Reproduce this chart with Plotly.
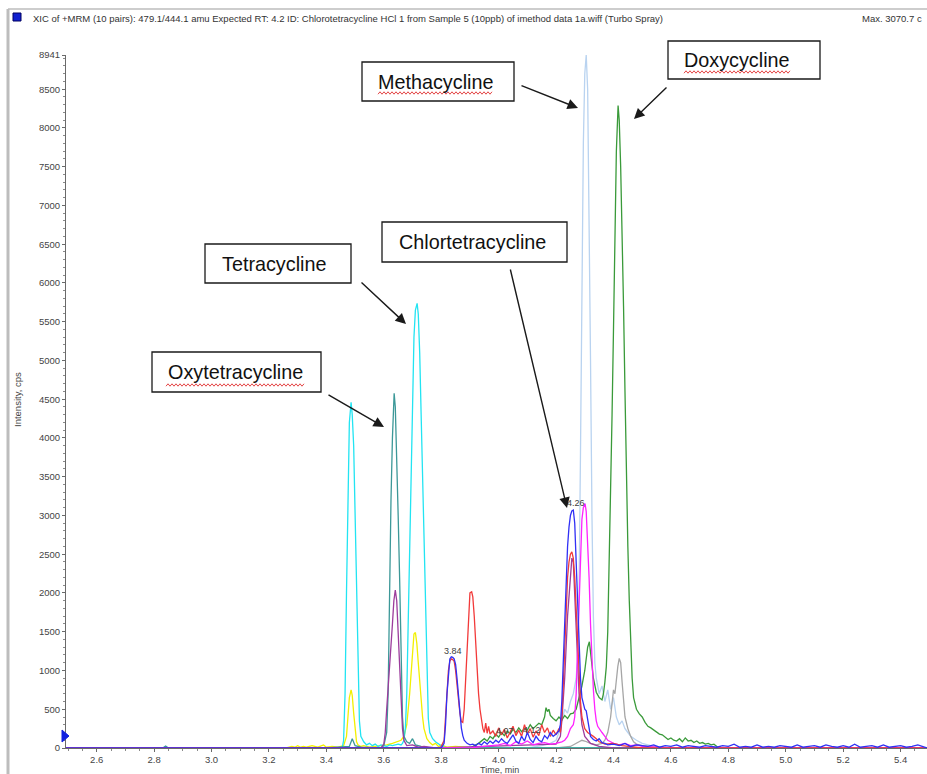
import plotly.graph_objects as go

# ---------------- data ----------------
CYAN_T = [2.493, 3.40, 3.455, 3.46, 3.465, 3.47, 3.475, 3.48, 3.486, 3.49, 3.495, 3.50, 3.505, 3.51, 3.515, 3.52,
          3.53, 3.54, 3.55, 3.56, 3.57, 3.58, 3.59, 3.60, 3.61, 3.62, 3.63, 3.64, 3.65, 3.66, 3.665, 3.67, 3.675,
          3.68, 3.685, 3.69, 3.695, 3.70, 3.705, 3.71, 3.716, 3.72, 3.725, 3.73, 3.735, 3.74, 3.745, 3.75, 3.755,
          3.76, 3.77, 3.78, 3.79, 3.80, 3.81, 3.82, 5.492]
CYAN_Y = [0, 0, 0, 100, 700, 2000, 3400, 4200, 4460, 4300, 3900, 3000, 1800, 800, 350, 150,
          80, 40, 60, 30, 50, 20, 40, 30, 20, 40, 30, 40, 50, 40, 60, 100, 250,
          700, 1600, 2700, 3700, 4600, 5300, 5650, 5736, 5600, 5100, 4300, 3500, 2700, 1700, 800, 380,
          200, 120, 80, 50, 30, 10, 0, 0]

YELLOW_T = [2.493, 3.26, 3.28, 3.29, 3.30, 3.31, 3.32, 3.33, 3.35, 3.37, 3.39, 3.40, 3.42, 3.44, 3.46, 3.47,
            3.475, 3.48, 3.486, 3.49, 3.495, 3.50, 3.505, 3.51, 3.52, 3.53, 3.55, 3.57, 3.59, 3.61, 3.63, 3.65,
            3.66, 3.67, 3.68, 3.69, 3.695, 3.70, 3.705, 3.71, 3.715, 3.72, 3.725, 3.73, 3.735, 3.74, 3.75,
            3.76, 3.77, 3.78, 3.79, 3.80, 3.82, 3.85, 3.88, 3.92, 5.492]
YELLOW_Y = [0, 0, 20, 10, 30, 10, 20, 10, 30, 10, 40, 10, 20, 10, 30, 150,
            400, 650, 750, 680, 450, 200, 80, 40, 20, 30, 10, 20, 30, 40, 60, 80,
            100, 150, 300, 700, 1000, 1300, 1470, 1490, 1350, 1100, 850, 600, 400, 250, 120,
            70, 40, 60, 20, 40, 10, 20, 10, 0, 0]

TEAL_T = [2.493, 2.83, 2.84, 2.85, 3.40, 3.48, 3.49, 3.495, 3.50, 3.52, 3.59, 3.60, 3.61, 3.615, 3.62, 3.625,
          3.63, 3.636, 3.64, 3.645, 3.65, 3.655, 3.66, 3.665, 3.67, 3.68, 3.69, 3.70, 3.705, 3.71, 3.73, 3.76, 5.492]
TEAL_Y = [0, 0, 25, 0, 0, 20, 120, 80, 30, 10, 0, 30, 200, 700, 2300, 3200,
          4000, 4576, 4400, 3800, 3000, 2200, 1000, 400, 150, 80, 60, 120, 80, 40, 20, 0, 0]

PURPLE_T = [2.493, 3.59, 3.60, 3.605, 3.61, 3.62, 3.63, 3.635, 3.64, 3.645, 3.65, 3.655, 3.66, 3.665, 3.67,
            3.68, 3.70, 3.72, 3.74, 3.78, 4.20, 4.215, 4.22, 4.23, 4.24, 4.25, 4.255, 4.26, 4.265, 4.27, 4.28,
            4.29, 4.30, 4.32, 4.35, 4.40, 5.492]
PURPLE_Y = [0, 0, 50, 200, 500, 1000, 1600, 1900, 2037, 1900, 1500, 1000, 550, 250, 100,
            30, 40, 10, 20, 0, 50, 150, 350, 900, 1700, 2300, 2450, 2400, 2000, 1400, 700,
            300, 150, 60, 20, 0, 0]

RED_T = [2.493, 3.79, 3.80, 3.81, 3.815, 3.82, 3.825, 3.83, 3.835, 3.84, 3.845, 3.85, 3.855, 3.86, 3.865,
         3.87, 3.875, 3.88, 3.885, 3.89, 3.895, 3.90, 3.906, 3.91, 3.915, 3.92, 3.925, 3.93, 3.935, 3.94,
         3.945, 3.95, 3.955, 3.96, 3.965, 3.97, 3.98, 3.99, 4.00, 4.01, 4.02, 4.03, 4.04, 4.05, 4.06, 4.07,
         4.08, 4.09, 4.10, 4.11, 4.12, 4.13, 4.14, 4.15, 4.16, 4.17, 4.18, 4.19, 4.20, 4.21, 4.215, 4.22,
         4.225, 4.23, 4.235, 4.24, 4.245, 4.25, 4.255, 4.26, 4.265, 4.27, 4.275, 4.28, 4.285, 4.29, 4.30,
         4.31, 4.32, 4.33, 4.34, 4.35, 4.37, 4.40, 4.43, 4.46, 4.50, 5.492]
RED_Y = [0, 0, 20, 100, 400, 750, 1000, 1120, 1150, 1140, 1120, 1000, 800, 600, 450,
         340, 330, 500, 900, 1400, 1800, 2000, 2015, 1950, 1700, 1300, 950, 700, 500, 380,
         250, 200, 320, 190, 280, 180, 220, 150, 260, 170, 240, 130, 200, 280, 160, 230,
         150, 300, 180, 250, 140, 220, 160, 300, 200, 260, 150, 230, 170, 250, 200, 400,
         800, 1300, 1800, 2200, 2400, 2500, 2530, 2450, 2200, 1800, 1300, 900, 600, 400, 250,
         200, 180, 150, 120, 80, 50, 60, 30, 20, 0, 0]

BLUE_T = [2.493, 3.80, 3.81, 3.815, 3.82, 3.825, 3.83, 3.835, 3.84, 3.845, 3.85, 3.855, 3.86, 3.865, 3.87,
          3.875, 3.88, 3.89, 3.90, 3.91, 3.92, 3.93, 3.94, 3.95, 3.96, 3.97, 3.98, 3.99, 4.00, 4.01, 4.02,
          4.03, 4.04, 4.05, 4.06, 4.07, 4.08, 4.09, 4.10, 4.11, 4.12, 4.13, 4.14, 4.15, 4.16, 4.17, 4.18,
          4.19, 4.20, 4.21, 4.215, 4.22, 4.225, 4.23, 4.235, 4.24, 4.245, 4.25, 4.255, 4.26, 4.265, 4.27,
          4.275, 4.28, 4.285, 4.29, 4.295, 4.30, 4.305, 4.31, 4.315, 4.32, 4.33, 4.34, 4.35, 4.36, 4.37,
          4.38, 4.40, 4.42, 4.44, 4.46, 4.48, 4.50, 4.52, 4.54, 4.56, 4.58, 4.60, 4.62, 4.64, 4.66, 4.68,
          4.70, 4.72, 4.74, 4.76, 4.78, 4.80, 4.82, 4.84, 4.86, 4.88, 4.90, 4.92, 4.94, 4.96, 4.98, 5.00,
          5.02, 5.04, 5.06, 5.08, 5.10, 5.12, 5.14, 5.16, 5.18, 5.20, 5.22, 5.24, 5.26, 5.28, 5.30, 5.32,
          5.34, 5.36, 5.38, 5.40, 5.42, 5.44, 5.46, 5.48, 5.492]
BLUE_Y = [0, 0, 60, 300, 700, 1000, 1150, 1177, 1170, 1150, 1080, 900, 650, 420, 260,
          160, 100, 60, 40, 50, 30, 60, 40, 80, 50, 90, 60, 100, 70, 120, 80,
          60, 110, 170, 90, 60, 150, 90, 200, 110, 70, 150, 100, 80, 160, 120, 200,
          150, 180, 220, 300, 600, 1100, 1700, 2200, 2600, 2850, 3000, 3060, 3070, 2900, 2400,
          1800, 1300, 900, 650, 550, 500, 480, 350, 220, 150, 110, 90, 120, 70, 60,
          40, 50, 30, 60, 20, 40, 30, 20, 40, 10, 30, 20, 40, 10, 30, 20,
          10, 30, 20, 10, 30, 20, 50, 10, 20, 10, 40, 10, 20, 10, 30, 20,
          10, 40, 10, 20, 30, 10, 40, 20, 10, 30, 10, 50, 10, 20, 30, 10,
          40, 10, 20, 30, 10, 20, 40, 10, 0]

MAGENTA_T = [2.493, 3.90, 3.95, 4.00, 4.02, 4.04, 4.06, 4.08, 4.10, 4.12, 4.14, 4.16, 4.18, 4.20, 4.22, 4.23,
             4.24, 4.25, 4.26, 4.265, 4.27, 4.275, 4.28, 4.285, 4.29, 4.295, 4.301, 4.305, 4.31, 4.315, 4.32,
             4.325, 4.33, 4.335, 4.34, 4.345, 4.35, 4.36, 4.37, 4.38, 4.39, 4.40, 4.42, 4.44, 4.46, 4.48, 4.50,
             4.55, 4.60, 5.492]
MAGENTA_Y = [0, 0, 20, 40, 60, 30, 80, 50, 90, 40, 60, 70, 50, 60, 80, 100,
             150, 250, 300, 400, 700, 1300, 2000, 2600, 2950, 3100, 3154, 3050, 2700, 2200, 1600,
             1100, 750, 500, 350, 280, 250, 200, 150, 100, 80, 60, 40, 60, 30, 40, 20,
             10, 0, 0]

LIGHTBLUE_T = [2.493, 4.10, 4.15, 4.18, 4.20, 4.21, 4.22, 4.23, 4.24, 4.25, 4.26, 4.27, 4.275, 4.28, 4.285,
               4.29, 4.295, 4.30, 4.305, 4.31, 4.315, 4.32, 4.325, 4.33, 4.335, 4.34, 4.35, 4.36, 4.37, 4.38,
               4.39, 4.40, 4.41, 4.42, 4.43, 4.44, 4.45, 4.46, 4.48, 4.50, 4.53, 4.56, 4.60, 5.492]
LIGHTBLUE_Y = [0, 0, 30, 60, 100, 200, 350, 500, 450, 600, 700, 900, 1200, 2000, 3800,
               6000, 7800, 8700, 8941, 8500, 7000, 5000, 3000, 1700, 1100, 900, 700, 800, 600, 750,
               500, 650, 400, 300, 350, 250, 200, 150, 100, 60, 30, 10, 0, 0]

GREEN_T = [2.493, 3.90, 3.93, 3.95, 3.96, 3.97, 3.98, 3.99, 4.00, 4.01, 4.02, 4.03, 4.04, 4.05, 4.06, 4.07,
           4.08, 4.09, 4.10, 4.11, 4.12, 4.13, 4.14, 4.15, 4.16, 4.165, 4.17, 4.175, 4.18, 4.19, 4.20, 4.21,
           4.22, 4.23, 4.24, 4.25, 4.26, 4.27, 4.28, 4.29, 4.30, 4.305, 4.31, 4.316, 4.32, 4.325, 4.33, 4.34,
           4.35, 4.36, 4.365, 4.37, 4.375, 4.38, 4.385, 4.39, 4.395, 4.40, 4.405, 4.41, 4.416, 4.42, 4.425,
           4.43, 4.435, 4.44, 4.445, 4.45, 4.455, 4.46, 4.465, 4.47, 4.475, 4.48, 4.49, 4.50, 4.51, 4.52,
           4.53, 4.54, 4.55, 4.56, 4.57, 4.58, 4.59, 4.60, 4.61, 4.62, 4.63, 4.64, 4.65, 4.66, 4.67, 4.68,
           4.69, 4.70, 4.71, 4.72, 4.73, 4.74, 4.75, 4.76, 4.77, 5.492]
GREEN_Y = [0, 0, 60, 120, 90, 150, 120, 180, 140, 200, 160, 220, 180, 240, 200, 260,
           210, 250, 230, 300, 250, 280, 320, 300, 400, 520, 470, 500, 420, 380, 350, 400,
           360, 420, 380, 440, 450, 500, 650, 800, 1000, 1150, 1300, 1370, 1250, 1050, 900, 720,
           650, 620, 700, 850, 1050, 1500, 2300, 3300, 4300, 5400, 6600, 7700, 8290, 8100, 7500,
           6700, 5700, 4600, 3500, 2600, 1900, 1300, 900, 650, 550, 500, 440, 400, 330, 280,
           260, 230, 200, 180, 170, 140, 110, 130, 100, 90, 120, 80, 130, 90, 100, 70,
           90, 60, 70, 50, 60, 40, 50, 20, 0, 0]

GREY_T = [2.493, 4.20, 4.25, 4.27, 4.28, 4.29, 4.30, 4.31, 4.32, 4.33, 4.34, 4.35, 4.36, 4.37, 4.38, 4.39,
          4.395, 4.40, 4.405, 4.41, 4.415, 4.42, 4.425, 4.43, 4.435, 4.44, 4.45, 4.46, 4.47, 4.48, 4.50,
          4.55, 4.60, 5.492]
GREY_Y = [0, 0, 20, 60, 80, 100, 90, 70, 60, 50, 40, 50, 60, 100, 200, 400,
          600, 750, 700, 900, 1050, 1156, 1100, 850, 600, 400, 250, 150, 80, 50, 30,
          10, 0, 0]

PEAK_LABELS = ["3.84", "4.26", "4.07", "4.12"]
Y_TICKS = [0, 500, 1000, 1500, 2000, 2500, 3000, 3500, 4000, 4500, 5000, 5500, 6000, 6500, 7000, 7500, 8000, 8500, 8941]
X_TICKS = [2.6, 2.8, 3.0, 3.2, 3.4, 3.6, 3.8, 4.0, 4.2, 4.4, 4.6, 4.8, 5.0, 5.2, 5.4]
COMPOUNDS = ["Methacycline", "Doxycycline", "Chlortetracycline", "Tetracycline", "Oxytetracycline"]

# ---------------- figure ----------------
W, H = 927, 774
L, R, T, B = 66, 0, 55, 26
PW, PH = W - L - R, H - T - B
FONT = "Arial, Liberation Sans, sans-serif"


def px(xp):
    return (xp - L) / PW


def py(yp):
    return (H - B - yp) / PH


traces = [
    (LIGHTBLUE_T, LIGHTBLUE_Y, "#B9D3F0"),
    (GREY_T, GREY_Y, "#A6A6A6"),
    (GREEN_T, GREEN_Y, "#3A9A3A"),
    (YELLOW_T, YELLOW_Y, "#F2F000"),
    (CYAN_T, CYAN_Y, "#22E4F2"),
    (TEAL_T, TEAL_Y, "#3C9898"),
    (PURPLE_T, PURPLE_Y, "#9C3C9C"),
    (MAGENTA_T, MAGENTA_Y, "#FF22FF"),
    (RED_T, RED_Y, "#F23A3A"),
    (BLUE_T, BLUE_Y, "#3030F5"),
]

fig = go.Figure()
for t, y, c in traces:
    fig.add_trace(go.Scatter(x=t, y=y, mode="lines", line=dict(color=c, width=1.3),
                             hoverinfo="skip", showlegend=False))

fig.update_layout(
    width=W, height=H,
    margin=dict(l=L, r=R, t=T, b=B),
    paper_bgcolor="white", plot_bgcolor="white",
    showlegend=False,
    font=dict(family=FONT, color="#333333"),
    xaxis=dict(range=[2.493, 5.492], tickvals=X_TICKS, ticktext=[f"{v:.1f}" for v in X_TICKS],
               showgrid=False, zeroline=False, showline=True, linecolor="#6a6a6a", linewidth=1,
               ticks="outside", ticklen=3, tickcolor="#6a6a6a", tickfont=dict(size=9.5, color="#444444"),
               minor=dict(dtick=0.05, ticks="outside", ticklen=2, tickcolor="#8a8a8a"),
               fixedrange=True),
    yaxis=dict(range=[0, 8941], tickvals=Y_TICKS, ticktext=[str(v) for v in Y_TICKS],
               showgrid=False, zeroline=False, showline=True, linecolor="#6a6a6a", linewidth=1,
               ticks="outside", ticklen=3, tickcolor="#6a6a6a", tickfont=dict(size=9.5, color="#444444"),
               minor=dict(dtick=100, ticks="outside", ticklen=2, tickcolor="#8a8a8a"),
               fixedrange=True),
)

shapes = []
annotations = []

# window frame lines
shapes.append(dict(type="line", xref="paper", yref="paper", x0=px(8), x1=px(8), y0=py(9), y1=py(H),
                   line=dict(color="#BDBDBD", width=3)))
shapes.append(dict(type="line", xref="paper", yref="paper", x0=px(8), x1=px(W), y0=py(9), y1=py(9),
                   line=dict(color="#BDBDBD", width=1.5)))

# header blue square
shapes.append(dict(type="rect", xref="paper", yref="paper", x0=px(13), x1=px(21), y0=py(13), y1=py(21),
                   fillcolor="#1020D0", line=dict(color="#000060", width=1)))
annotations.append(dict(xref="paper", yref="paper", x=px(31), y=py(18), xanchor="left", yanchor="middle",
                        showarrow=False,
                        text="XIC of +MRM (10 pairs): 479.1/444.1 amu Expected RT: 4.2 ID: Chlorotetracycline HCl 1 from Sample 5 (10ppb) of imethod data 1a.wiff (Turbo Spray)",
                        font=dict(size=9.5, color="#333333", family=FONT)))
annotations.append(dict(xref="paper", yref="paper", x=px(860), y=py(18), xanchor="left", yanchor="middle",
                        showarrow=False, text="Max. 3070.7 c",
                        font=dict(size=9.5, color="#333333", family=FONT)))

# axis titles
annotations.append(dict(xref="paper", yref="paper", x=px(499), y=py(770), xanchor="center", yanchor="middle",
                        showarrow=False, text="Time, min", font=dict(size=9, color="#444444", family=FONT)))
annotations.append(dict(xref="paper", yref="paper", x=px(17), y=py(400), xanchor="center", yanchor="middle",
                        showarrow=False, text="Intensity, cps", textangle=-90,
                        font=dict(size=9.5, color="#444444", family=FONT)))

# threshold marker on y axis
shapes.append(dict(type="path", xref="paper", yref="paper",
                   path=f"M {px(62)} {py(730)} L {px(69)} {py(736)} L {px(62)} {py(742)} Z",
                   fillcolor="#1020E0", line=dict(color="#1020E0", width=1)))

# peak labels
label_pos = [(453, 651), (576, 503), (505, 731), (532, 730)]
for txt, (lx, ly) in zip(PEAK_LABELS, label_pos):
    annotations.append(dict(xref="paper", yref="paper", x=px(lx), y=py(ly), xanchor="center",
                            yanchor="middle", showarrow=False, text=txt,
                            font=dict(size=9, color="#404040", family=FONT)))

# compound call-out boxes: (box x0, x1, y0, y1), text center, arrow tail, arrow tip, wavy underline
callouts = [
    ((362, 514, 62, 101), (435, 82), (520, 85), (578, 108), (378, 493, 93)),
    ((668, 820, 41, 79), (737, 60), (668, 86), (634, 119), (684, 790, 72)),
    ((382, 567, 222, 262), (472, 242), (510, 268), (567, 508), None),
    ((205, 351, 244, 283), (274, 264), (360, 281), (406, 324), None),
    ((152, 321, 352, 392), (235, 372), (327, 394), (384, 427), (166, 304, 385)),
]
for name, (box, tc, tail, tip, wavy) in zip(COMPOUNDS, callouts):
    x0, x1, y0, y1 = box
    shapes.append(dict(type="rect", xref="paper", yref="paper", x0=px(x0), x1=px(x1), y0=py(y1), y1=py(y0),
                       fillcolor="white", line=dict(color="#1a1a1a", width=1.3), layer="above"))
    annotations.append(dict(xref="paper", yref="paper", x=px(tc[0]), y=py(tc[1]), xanchor="center",
                            yanchor="middle", showarrow=False, text=name,
                            font=dict(size=19.8, color="#111111", family=FONT)))
    annotations.append(dict(xref="paper", yref="paper", x=px(tip[0]), y=py(tip[1]),
                            ax=tail[0] - tip[0], ay=tail[1] - tip[1], text="", showarrow=True,
                            arrowhead=2, arrowsize=1.5, arrowwidth=1.4, arrowcolor="#1a1a1a",
                            standoff=0, startstandoff=0))
    if wavy:
        wx0, wx1, wy = wavy
        pts = []
        xx = wx0
        k = 0
        while xx <= wx1:
            pts.append((xx, wy + (1.2 if k % 2 == 0 else -1.2)))
            xx += 2
            k += 1
        path = "M " + " L ".join(f"{px(a)} {py(b)}" for a, b in pts)
        shapes.append(dict(type="path", xref="paper", yref="paper", path=path,
                           line=dict(color="#E03030", width=0.9), layer="above"))

fig.update_layout(shapes=shapes, annotations=annotations)
fig.write_html("out.html", config={"displayModeBar": False, "staticPlot": True},
               post_script="document.body.style.margin='0';document.body.style.padding='0';document.body.style.overflow='hidden';")
